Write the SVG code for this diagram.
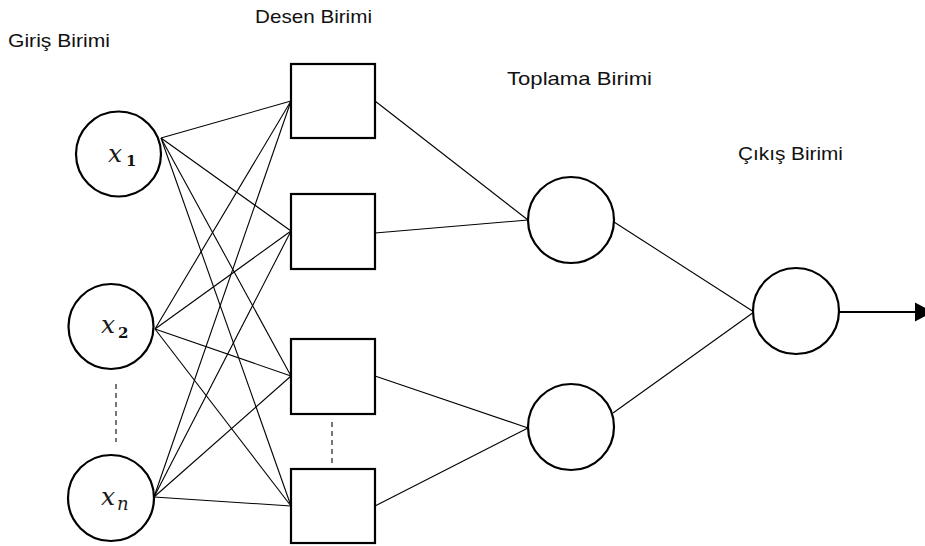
<svg xmlns="http://www.w3.org/2000/svg" width="925" height="546" viewBox="0 0 925 546">
  <style>
    .node { fill: #ffffff; stroke: #000000; stroke-width: 2.2; }
    .edge { stroke: #000000; stroke-width: 1.1; fill: none; }
    .dash { stroke: #555555; stroke-width: 1.6; stroke-dasharray: 5 4; fill: none; }
    .label { font-family: "Liberation Sans", Arial, sans-serif; font-size: 19px; fill: #111111; }
    .var { font-family: "DejaVu Serif", "Liberation Serif", serif; font-style: italic; font-size: 25px; fill: #1a1a1a; }
    .sub { font-family: "DejaVu Serif", "Liberation Serif", serif; font-weight: bold; font-size: 15px; fill: #111111; }
    .subi { font-family: "DejaVu Serif", "Liberation Serif", serif; font-style: italic; font-size: 18px; fill: #1a1a1a; }
  </style>
  <rect width="925" height="546" fill="#ffffff"/>

  <!-- layer titles -->
  <text class="label" x="8" y="47" textLength="102" lengthAdjust="spacingAndGlyphs">Giriş Birimi</text>
  <text class="label" x="255" y="23" textLength="117" lengthAdjust="spacingAndGlyphs">Desen Birimi</text>
  <text class="label" x="507" y="85" textLength="145" lengthAdjust="spacingAndGlyphs">Toplama Birimi</text>
  <text class="label" x="738" y="160" textLength="105" lengthAdjust="spacingAndGlyphs">Çıkış Birimi</text>

  <!-- connectors -->
  <g id="connectors">
    <!-- input to pattern -->
    <line class="edge" x1="161" y1="138" x2="291" y2="101"/>
    <line class="edge" x1="161" y1="138" x2="291" y2="231"/>
    <line class="edge" x1="161" y1="138" x2="291" y2="376"/>
    <line class="edge" x1="161" y1="138" x2="291" y2="506"/>
    <line class="edge" x1="155" y1="329" x2="291" y2="101"/>
    <line class="edge" x1="155" y1="329" x2="291" y2="231"/>
    <line class="edge" x1="155" y1="329" x2="291" y2="376"/>
    <line class="edge" x1="155" y1="329" x2="291" y2="506"/>
    <line class="edge" x1="154" y1="497" x2="291" y2="101"/>
    <line class="edge" x1="154" y1="497" x2="291" y2="231"/>
    <line class="edge" x1="154" y1="497" x2="291" y2="376"/>
    <line class="edge" x1="154" y1="497" x2="291" y2="506"/>
    <!-- pattern to summation -->
    <line class="edge" x1="375" y1="101" x2="528" y2="220"/>
    <line class="edge" x1="375" y1="233" x2="528" y2="220"/>
    <line class="edge" x1="375" y1="376" x2="528" y2="428"/>
    <line class="edge" x1="375" y1="506" x2="528" y2="428"/>
    <!-- summation to output -->
    <line class="edge" x1="614" y1="222" x2="754" y2="312"/>
    <line class="edge" x1="613" y1="413" x2="754" y2="312"/>
    <!-- output arrow -->
    <line x1="839" y1="312" x2="916" y2="312" stroke="#000000" stroke-width="2.2"/>
    <polygon points="915,302.5 933,312 915,321.5" fill="#000000"/>
    <!-- continuation marks -->
    <line class="dash" x1="116" y1="384" x2="116" y2="442"/>
    <line class="dash" x1="332" y1="422" x2="332" y2="463"/>
  </g>

  <!-- input units -->
  <g id="input-x1">
    <circle class="node" cx="118.5" cy="154" r="42.5"/>
    <text class="var" x="108" y="162">x</text>
    <text class="sub" x="126" y="166">1</text>
  </g>
  <g id="input-x2">
    <circle class="node" cx="111" cy="326.5" r="42.5"/>
    <text class="var" x="101" y="333">x</text>
    <text class="sub" x="118" y="338">2</text>
  </g>
  <g id="input-xn">
    <circle class="node" cx="111" cy="498" r="43"/>
    <text class="var" x="101" y="505">x</text>
    <text class="subi" x="117" y="510">n</text>
  </g>

  <!-- pattern units -->
  <g id="pattern-1"><rect class="node" x="291" y="64" width="84" height="74"/></g>
  <g id="pattern-2"><rect class="node" x="291" y="194" width="84" height="75"/></g>
  <g id="pattern-3"><rect class="node" x="291" y="339" width="84" height="75"/></g>
  <g id="pattern-4"><rect class="node" x="291" y="469" width="84" height="74"/></g>

  <!-- summation units -->
  <g id="sum-1"><circle class="node" cx="571" cy="220" r="43"/></g>
  <g id="sum-2"><circle class="node" cx="571" cy="427" r="43"/></g>

  <!-- output unit -->
  <g id="output"><circle class="node" cx="796" cy="311" r="43"/></g>
</svg>
